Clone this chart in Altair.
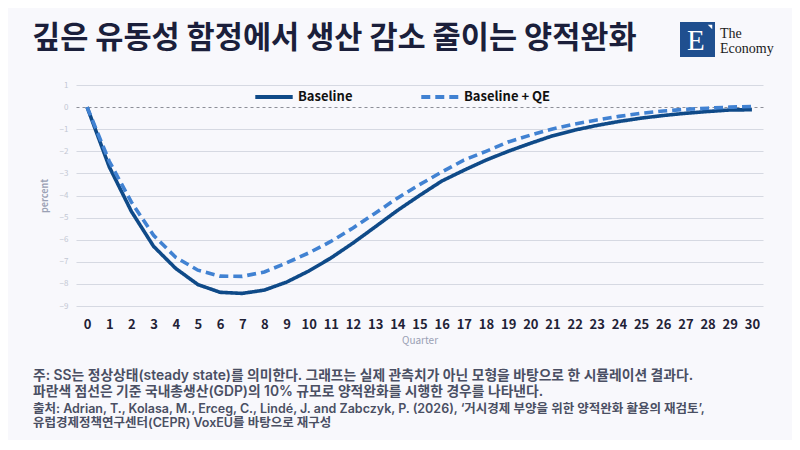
import altair as alt
import pandas as pd

quarters = list(range(31))
baseline = [0, -2.7, -4.72, -6.3, -7.3, -8.03, -8.38, -8.43, -8.28, -7.92, -7.42, -6.83,
            -6.15, -5.42, -4.68, -4.0, -3.35, -2.86, -2.4, -2.0, -1.64, -1.3, -1.04, -0.83,
            -0.65, -0.5, -0.38, -0.28, -0.2, -0.13, -0.12]
baseline_qe = [0, -2.45, -4.3, -5.8, -6.8, -7.38, -7.65, -7.66, -7.46, -7.05, -6.6, -6.08,
               -5.47, -4.8, -4.12, -3.51, -2.94, -2.4, -2.0, -1.58, -1.27, -0.99, -0.77, -0.58,
               -0.42, -0.28, -0.18, -0.1, -0.05, 0.0, 0.03]
series_names = ["Baseline", "Baseline + QE"]
y_ticks = list(range(-9, 2))

title_text = "깊은 유동성 함정에서 생산 감소 줄이는 양적완화"
note_lines = [
    "주: SS는 정상상태(steady state)를 의미한다. 그래프는 실제 관측치가 아닌 모형을 바탕으로 한 시뮬레이션 결과다.",
    "파란색 점선은 기준 국내총생산(GDP)의 10% 규모로 양적완화를 시행한 경우를 나타낸다.",
    "출처: Adrian, T., Kolasa, M., Erceg, C., Lindé, J. and Zabczyk, P. (2026), ‘거시경제 부양을 위한 양적완화 활용의 재검토’,",
    "유럽경제정책연구센터(CEPR) VoxEU를 바탕으로 재구성",
]

df = pd.DataFrame({
    "Quarter": quarters * 2,
    "value": baseline + baseline_qe,
    "series": [series_names[0]] * len(quarters) + [series_names[1]] * len(quarters),
})

KFONT = "Noto Sans CJK KR"
NFONT = "Inter, Noto Sans CJK KR"

lines = alt.Chart(df).mark_line(strokeWidth=3.6, strokeCap="butt", clip=False).encode(
    x=alt.X("Quarter:Q", scale=alt.Scale(domain=[-0.5, 30.5], nice=False, zero=False),
            axis=alt.Axis(values=quarters, format="d", title="Quarter", grid=False,
                          ticks=False, domain=False, labelFont=KFONT, labelFontSize=13,
                          labelFontWeight="bold", labelColor="#1f2236", labelPadding=12,
                          titleFont=KFONT, titleFontSize=10, titleFontWeight="normal",
                          titleColor="#9aa0b4", titlePadding=4, labelFlush=False)),
    y=alt.Y("value:Q", scale=alt.Scale(domain=[-9, 1], nice=False),
            axis=alt.Axis(values=y_ticks, title="percent", ticks=False, domain=False,
                          labelFont=KFONT, labelFontSize=8, labelColor="#c3c7d3",
                          labelPadding=8, titleFont=KFONT, titleFontSize=9,
                          titleFontWeight="bold", titleColor="#9aa0b4", titlePadding=10,
                          gridColor={"condition": {"test": "datum.value === 0", "value": "#8d8f98"},
                                     "value": "#d6d9e2"},
                          gridDash={"condition": {"test": "datum.value === 0", "value": [3, 3]},
                                    "value": []},
                          gridWidth=1)),
    color=alt.Color("series:N", scale=alt.Scale(domain=series_names, range=["#0f4a88", "#4182d2"]),
                    legend=alt.Legend(title=None, orient="none", direction="horizontal",
                                      legendX=177, legendY=-9, symbolType="stroke",
                                      symbolSize=1400, symbolStrokeWidth=4,
                                      labelFont=KFONT, labelFontSize=13, labelFontWeight="bold",
                                      labelColor="#111111", labelOffset=3, columnPadding=60)),
    strokeDash=alt.StrokeDash("series:N", scale=alt.Scale(domain=series_names, range=[[1, 0], [9, 5]]),
                              legend=None),
)

def text_layer(txt, x, y, size, weight, color, font=KFONT, baseline="middle"):
    return alt.Chart(pd.DataFrame({"t": [txt]})).mark_text(
        align="left", baseline=baseline, font=font, fontSize=size, fontWeight=weight, color=color
    ).encode(text="t:N", x=alt.value(x), y=alt.value(y))

title = text_layer(title_text, -44, -46, 30.6, "bold", "#1b1f3b")

logo_box = alt.Chart(pd.DataFrame({"a": [1]})).mark_rect(color="#1f4f8f").encode(
    x=alt.value(604), x2=alt.value(639), y=alt.value(-63), y2=alt.value(-28))
logo_tick = alt.Chart(pd.DataFrame({"a": [1]})).mark_point(
    shape="M-1,-1L1,-1L1,1Z", filled=True, color="#ffffff", opacity=1, size=20).encode(
    x=alt.value(634), y=alt.value(-58))
logo_e = text_layer("E", 611, -44, 29, "normal", "#ffffff", font="Liberation Serif")
logo_the = text_layer("The", 644, -51, 14, "normal", "#1a1a1a", font="Liberation Serif")
logo_eco = text_layer("Economy", 644, -36, 14, "normal", "#1a1a1a", font="Liberation Serif")

NOTE_C = "#4a4f63"
notes = [
    text_layer(note_lines[0], -43, 290.5, 13.8, 600, NOTE_C, font=NFONT),
    text_layer(note_lines[1], -43, 306.5, 13.8, 600, NOTE_C, font=NFONT),
    text_layer(note_lines[2], -43, 323.5, 12.5, 600, NOTE_C, font=NFONT),
    text_layer(note_lines[3], -43, 337.5, 12.5, 600, NOTE_C, font=NFONT),
]

chart = alt.layer(lines, title, logo_box, logo_tick, logo_e, logo_the, logo_eco, *notes).properties(
    width=687, height=221,
    autosize=alt.AutoSizeParams(type="none"),
    padding={"left": 68, "top": 77, "right": 29, "bottom": 134},
    background="#f8f8fc",
).configure_view(stroke=None)

chart.save("out.html", embed_options={"renderer": "svg", "actions": False})
